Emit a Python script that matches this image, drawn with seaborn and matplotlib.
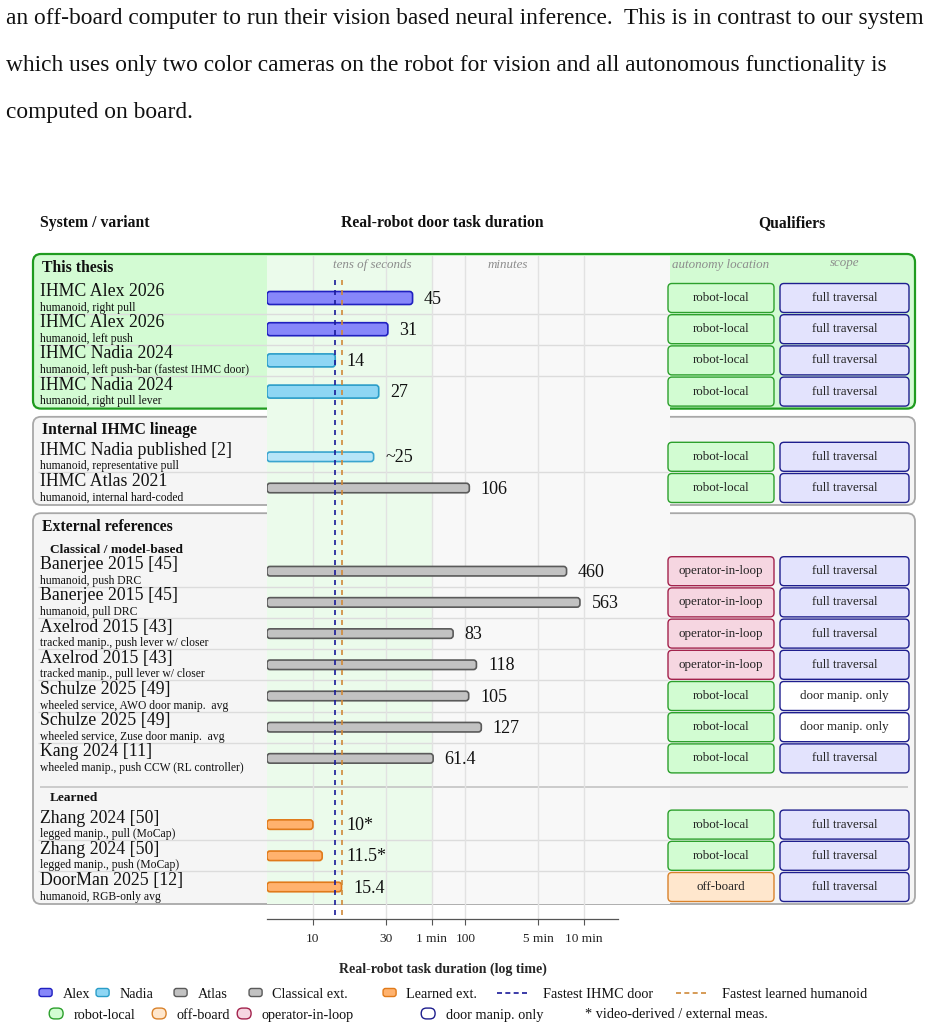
import numpy as np
import pandas as pd
import matplotlib
matplotlib.use("Agg")
import matplotlib.pyplot as plt
import matplotlib.transforms as mtransforms
from matplotlib.patches import FancyBboxPatch, Patch
from matplotlib.lines import Line2D
from matplotlib.legend_handler import HandlerPatch
import seaborn as sns

# ---------------- data ----------------
names = ["IHMC Alex 2026", "IHMC Alex 2026", "IHMC Nadia 2024", "IHMC Nadia 2024",
         "IHMC Nadia published [2]", "IHMC Atlas 2021",
         "Banerjee 2015 [45]", "Banerjee 2015 [45]", "Axelrod 2015 [43]", "Axelrod 2015 [43]",
         "Schulze 2025 [49]", "Schulze 2025 [49]", "Kang 2024 [11]",
         "Zhang 2024 [50]", "Zhang 2024 [50]", "DoorMan 2025 [12]"]
details = ["humanoid, right pull", "humanoid, left push",
           "humanoid, left push-bar (fastest IHMC door)", "humanoid, right pull lever",
           "humanoid, representative pull", "humanoid, internal hard-coded",
           "humanoid, push DRC", "humanoid, pull DRC",
           "tracked manip., push lever w/ closer", "tracked manip., pull lever w/ closer",
           "wheeled service, AWO door manip.  avg", "wheeled service, Zuse door manip.  avg",
           "wheeled manip., push CCW (RL controller)",
           "legged manip., pull (MoCap)", "legged manip., push (MoCap)", "humanoid, RGB-only avg"]
durations = [45, 31, 14, 27, 25, 106, 460, 563, 83, 118, 105, 127, 61.4, 10, 11.5, 15.4]
value_labels = ["45", "31", "14", "27", "~25", "106", "460", "563", "83", "118", "105", "127",
                "61.4", "10*", "11.5*", "15.4"]
platform = ["Alex", "Alex", "Nadia", "Nadia", "Nadia pub", "Atlas"] + ["Classical"] * 7 + ["Learned"] * 3
section = ["thesis"] * 4 + ["internal"] * 2 + ["classical"] * 7 + ["learned"] * 3
autonomy = ["robot-local"] * 6 + ["operator-in-loop"] * 4 + ["robot-local"] * 3 + \
           ["robot-local", "robot-local", "off-board"]
scope = ["full traversal"] * 10 + ["door manip. only"] * 2 + ["full traversal"] * 4

tick_vals = [10, 30, 60, 100, 300, 600]
tick_labels = ["10", "30", "1 min", "100", "5 min", "10 min"]

paragraph = ["an off-board computer to run their vision based neural inference.  This is in contrast to our system",
             "which uses only two color cameras on the robot for vision and all autonomous functionality is",
             "computed on board."]

# ---------------- styles ----------------
bar_style = {"Alex": ("#8787fa", "#2020c0"), "Nadia": ("#8ed6f4", "#2a9dc8"),
             "Nadia pub": ("#b7e5f8", "#3aa5cf"), "Atlas": ("#c2c2c2", "#5a5a5a"),
             "Classical": ("#c2c2c2", "#5a5a5a"), "Learned": ("#ffb26e", "#e07a1a")}
auto_style = {"robot-local": ("#d2fcd2", "#2ca02c"), "operator-in-loop": ("#f6d6e1", "#a3234d"),
              "off-board": ("#ffe7cd", "#d9822b")}
scope_style = {"full traversal": ("#e3e3fd", "#1e1e8e"), "door manip. only": ("#ffffff", "#1e1e8e")}
navy, orange = "#1a1a99", "#d08a3a"
sub_grey = "#8c8c8c"

sns.set_theme(style="white")
plt.rcParams["font.family"] = ["Liberation Serif", "DejaVu Serif"]
plt.rcParams["text.color"] = "#111111"

W, H = 942, 1029
fig = plt.figure(figsize=(W / 100, H / 100), dpi=100)
fig.patch.set_facecolor("white")

# canvas in image pixels (y down)
cv = fig.add_axes([0, 0, 1, 1])
cv.set_xlim(0, W)
cv.set_ylim(H, 0)
cv.axis("off")
cv.set_zorder(0)

# row positions
ROW = 31.2
gap = {"internal": 34, "classical": 52, "learned": 35}
ypos = []
y = 298.0
for i, s in enumerate(section):
    if i > 0:
        y += ROW + (gap[s] if s != section[i - 1] else 0)
    ypos.append(y)
ypos = np.array(ypos)
sec = np.array(section)

# data axes
AX_L, AX_R, AX_T, AX_B = 267, 618, 256, 919
ax = fig.add_axes([AX_L / W, (H - AX_B) / H, (AX_R - AX_L) / W, (AX_B - AX_T) / H])
ax.set_zorder(1)
ax.patch.set_alpha(0)
ax.set_xscale("log")

df = pd.DataFrame({"duration": durations, "ypos": ypos, "platform": platform})
sns.barplot(data=df, x="duration", y="ypos", orient="y", native_scale=True,
            color="#c2c2c2", errorbar=None, ax=ax)
ax.set_xlim(5, 1000)
ax.set_ylim(AX_B, AX_T)


def to_cv(xd, yd):
    return cv.transData.inverted().transform(ax.transData.transform((xd, yd)))


# group boxes
groups = [("This thesis", ["thesis"], 44, "#1f9b1f", "#d3fbd3", 1.6),
          ("Internal IHMC lineage", ["internal"], 40, "#a8a8a8", "#f5f5f5", 1.3),
          ("External references", ["classical", "learned"], 58, "#a8a8a8", "#f5f5f5", 1.3)]
for title, secs, tpad, ec, fc, lw in groups:
    ys = ypos[np.isin(sec, secs)]
    top, bot = ys.min() - tpad, ys.max() + 17
    cv.add_patch(FancyBboxPatch((33, top), 915 - 33, bot - top,
                                boxstyle="round,pad=0,rounding_size=8",
                                fc=fc, ec=ec, lw=lw, zorder=1))
    cv.text(42, top + 17.5, title, fontsize=11.3, fontweight="bold", va="baseline", zorder=6)

# chart background bands
x60 = to_cv(60, 0)[0]
cv.add_patch(plt.Rectangle((AX_L, 256), x60 - AX_L, 904 - 256, fc="#ebfbeb", ec="none", zorder=2))
cv.add_patch(plt.Rectangle((x60, 256), 670 - x60, 904 - 256, fc="#f8f8f8", ec="none", zorder=2))

# sub-section titles and separator
y_cl = ypos[sec == "classical"].min()
y_le = ypos[sec == "learned"].min()
cv.text(50, y_cl - 18.5, "Classical / model-based", fontsize=9.6, fontweight="bold", va="baseline", zorder=6)
cv.text(50, y_le - 24, "Learned", fontsize=9.6, fontweight="bold", va="baseline", zorder=6)
cv.hlines(y_le - 38, 40, 908, color="#c4c4c4", lw=1.2, zorder=3)

# row separators
for i in range(len(ypos) - 1):
    if sec[i] == sec[i + 1]:
        cv.hlines((ypos[i] + ypos[i + 1]) / 2, 38, 668, color="#dcdcdc", lw=1, zorder=3)

# row labels and qualifier boxes
for i, yc in enumerate(ypos):
    cv.text(40, yc - 2, names[i], fontsize=12.8, va="baseline", zorder=6)
    cv.text(40, yc + 12.5, details[i], fontsize=8.4, va="baseline", zorder=6)
    fc, ec = auto_style[autonomy[i]]
    cv.add_patch(FancyBboxPatch((668, yc - 14.5), 106, 29, boxstyle="round,pad=0,rounding_size=4",
                                fc=fc, ec=ec, lw=1, zorder=4))
    cv.text(721, yc, autonomy[i], fontsize=9.4, ha="center", va="center", color="#222222", zorder=6)
    fc, ec = scope_style[scope[i]]
    cv.add_patch(FancyBboxPatch((780, yc - 14.5), 129, 29, boxstyle="round,pad=0,rounding_size=4",
                                fc=fc, ec=ec, lw=1, zorder=4))
    cv.text(844.5, yc, scope[i], fontsize=9.4, ha="center", va="center", color="#222222", zorder=6)

# column headers
cv.text(40, 223, "System / variant", fontsize=11.3, fontweight="bold", va="center")
cv.text((AX_L + AX_R) / 2, 223, "Real-robot door task duration", fontsize=11.3, fontweight="bold",
        ha="center", va="center")
cv.text(792, 223, "Qualifiers", fontsize=11.3, fontweight="bold", ha="center", va="center")
cv.text(721, 265, "autonomy location", fontsize=9.4, style="italic", color=sub_grey,
        ha="center", va="center", zorder=6)
cv.text(844.5, 263, "scope", fontsize=9.4, style="italic", color=sub_grey,
        ha="center", va="center", zorder=6)

for k, line in enumerate(paragraph):
    cv.text(6, 24 + 47 * k, line, fontsize=16.8, va="baseline")

# reference lines
ihmc_idx = [i for i, n in enumerate(names) if n.startswith("IHMC")]
fastest_ihmc = min(durations[i] for i in ihmc_idx)
fastest_learned = durations[names.index("DoorMan 2025 [12]")]

# rounded bars (re-drawn from seaborn's rectangles)
for p in list(ax.patches):
    yc = p.get_y() + p.get_height() / 2
    i = int(np.argmin(np.abs(ypos - yc)))
    val = p.get_width()
    p.remove()
    h = 13 if section[i] == "thesis" else 9.5
    (x0, yd), (x1, _) = ax.transData.transform([(5, yc), (val, yc)])
    fc, ec = bar_style[platform[i]]
    ax.add_patch(FancyBboxPatch((x0, yd - h / 2), x1 - x0, h, boxstyle="round,pad=0,rounding_size=3",
                                fc=fc, ec=ec, lw=1.2, transform=mtransforms.IdentityTransform(),
                                zorder=2))
    ax.annotate(value_labels[i], xy=(max(val, fastest_ihmc), yc), xytext=(11.5, -1),
                textcoords="offset pixels", ha="left", va="center", fontsize=13, zorder=5)

ax.vlines(fastest_ihmc, 915, 277, color=navy, lw=1.2, linestyles=(0, (3, 3)), zorder=4)
ax.vlines(fastest_learned, 915, 277, color=orange, lw=1.2, linestyles=(0, (3, 3)), zorder=4)

ax.text(np.sqrt(10 * 60), 265, "tens of seconds", fontsize=9.4, style="italic", color=sub_grey,
        ha="center", va="center")
ax.text(np.sqrt(60 * 600), 265, "minutes", fontsize=9.4, style="italic", color=sub_grey,
        ha="center", va="center")

# axis styling
ax.set_xticks(tick_vals)
ax.set_xticklabels(tick_labels)
ax.xaxis.set_minor_locator(matplotlib.ticker.NullLocator())
ax.set_yticks([])
ax.set_ylabel("")
ax.grid(axis="x", color="#e2e2e2", lw=1)
ax.set_axisbelow(True)
for s in ["top", "left", "right"]:
    ax.spines[s].set_visible(False)
ax.spines["bottom"].set_color("#555555")
ax.spines["bottom"].set_linewidth(0.9)
ax.tick_params(axis="x", length=4, width=0.8, color="#555555", pad=6, labelsize=9.6,
               labelcolor="#222222", direction="out", bottom=True)
ax.set_xlabel("Real-robot task duration (log time)", fontsize=10, fontweight="bold", labelpad=13)


# legends
class RoundHandler(HandlerPatch):
    def __init__(self, w, h, r):
        super().__init__()
        self.w, self.h, self.r = w, h, r

    def create_artists(self, legend, orig_handle, xdescent, ydescent, width, height, fontsize, trans):
        x0 = -xdescent + (width - self.w) / 2
        y0 = -ydescent + (height - self.h) / 2
        p = FancyBboxPatch((x0, y0), self.w, self.h, boxstyle=f"round,pad=0,rounding_size={self.r}",
                           fc=orig_handle.get_facecolor(), ec=orig_handle.get_edgecolor(), lw=1.0,
                           transform=trans)
        return [p]


row1 = [("Alex", Patch(fc=bar_style["Alex"][0], ec=bar_style["Alex"][1])),
        ("Nadia", Patch(fc=bar_style["Nadia"][0], ec=bar_style["Nadia"][1])),
        ("Atlas", Patch(fc=bar_style["Atlas"][0], ec=bar_style["Atlas"][1])),
        ("Classical ext.", Patch(fc=bar_style["Classical"][0], ec=bar_style["Classical"][1])),
        ("Learned ext.", Patch(fc=bar_style["Learned"][0], ec=bar_style["Learned"][1])),
        ("Fastest IHMC door", Line2D([], [], color=navy, lw=1.2, ls=(0, (3, 2)))),
        ("Fastest learned humanoid", Line2D([], [], color=orange, lw=1.2, ls=(0, (3, 2))))]
row1_x = [39, 96, 174, 249, 383, 497, 676]
row2 = [(k, Patch(fc=auto_style[k][0], ec=auto_style[k][1])) for k in ["robot-local", "off-board", "operator-in-loop"]]
row2.append(("door manip. only", Patch(fc=scope_style["door manip. only"][0], ec=scope_style["door manip. only"][1])))
row2_x = [49, 152, 237, 421]

for (lab, hd), x in zip(row1, row1_x):
    is_line = isinstance(hd, Line2D)
    fig.legend(handles=[hd], labels=[lab], loc="center left", bbox_to_anchor=(x / W, 1 - 994 / H),
               frameon=False, fontsize=10.3, borderpad=0, borderaxespad=0,
               handlelength=2.2 if is_line else 0.92, handletextpad=1.0 if is_line else 0.72,
               handler_map={Patch: RoundHandler(9.4, 5.8, 1.8)})
for (lab, hd), x in zip(row2, row2_x):
    fig.legend(handles=[hd], labels=[lab], loc="center left", bbox_to_anchor=(x / W, 1 - 1015 / H),
               frameon=False, fontsize=10.3, borderpad=0, borderaxespad=0,
               handlelength=1.0, handletextpad=0.72,
               handler_map={Patch: RoundHandler(10, 7.8, 3.8)})
cv.text(585, 1015, "* video-derived / external meas.", fontsize=10.3, va="center")

fig.savefig("out.png", dpi=100)
